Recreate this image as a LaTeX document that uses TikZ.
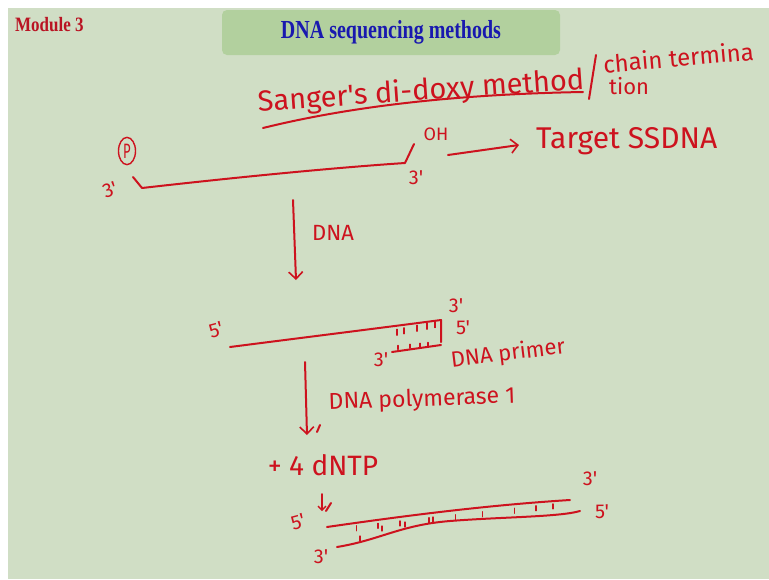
\documentclass[tikz,border=0pt]{standalone}
\usepackage{fontspec}
\setmainfont{Liberation Serif}
\newfontfamily\hand{Fira Sans}
\usepackage{tikz}
\usetikzlibrary{arrows.meta,calc}

\definecolor{board}{RGB}{208,222,197}
\definecolor{titlegreen}{RGB}{178,208,158}
\definecolor{titleblue}{RGB}{25,25,175}
\definecolor{modred}{RGB}{185,20,35}
\definecolor{inkred}{RGB}{205,18,30}

\begin{document}
\begin{tikzpicture}[x=1pt,y=-1pt,
  ink/.style={draw=inkred,line width=2pt,line cap=round,line join=round},
  thin ink/.style={draw=inkred,line width=1.2pt,line cap=round},
  pen arrow/.style={ink,-{Straight Barb[length=7pt,width=14pt,line width=1.6pt]}},
  scrawl/.style={text=inkred,inner sep=0pt,font=\hand\fontsize{#1}{#1}\selectfont},
  prime/.style={scrawl=20}]
  \useasboundingbox (0,0) rectangle (769,579);
  \fill[board] (8,8) rectangle (769,579);

  % header
  \node[anchor=west,text=modred,inner sep=0pt,font=\bfseries\fontsize{17}{17}\selectfont] (module) at (15,25) {\scalebox{1}[1.2]{Module 3}};
  \node[fill=titlegreen,rounded corners=5pt,minimum width=338pt,minimum height=45pt,
        text=titleblue,font=\bfseries\fontsize{20}{20}\selectfont] (title) at (391,32.5) {\scalebox{1}[1.3]{DNA sequencing methods}};

  % heading of the method
  \node[scrawl=29,rotate=4] (sanger) at (421,92) {Sanger's di-doxy method};
  \coordinate (sl1) at (589,99);
  \coordinate (sl2) at (596,55);
  \draw[ink] (sl1) -- (sl2);
  \node[scrawl=24,rotate=5,anchor=west] (chain) at (603,64) {chain termina};
  \node[scrawl=22,anchor=west] (tion) at (609,86) {tion};
  \coordinate (ul1) at (263,128);
  \coordinate (ul2) at (583,92);
  \draw[ink] (ul1) .. controls (360,104) and (470,94) .. (ul2);

  % target single strand
  \node[circle,draw=inkred,line width=1.4pt,minimum width=17pt,minimum height=17pt,inner sep=0pt,
        yscale=1.6,text=inkred,font=\hand\fontsize{13}{13}\selectfont] (phos) at (127,151) {P};
  \node[prime,rotate=20] (t1) at (110,190) {3'};
  \coordinate (h1) at (133,177);
  \coordinate (s1a) at (142,188);
  \coordinate (s1b) at (405,163);
  \coordinate (oh1) at (414,144);
  \draw[ink] (h1) -- (s1a) .. controls (230,178) and (330,168) .. (s1b) -- (oh1);
  \node[scrawl=18] (oh) at (436,134) {OH};
  \node[prime] (t2) at (416,178) {3'};
  \coordinate (ar1) at (448,155);
  \coordinate (ar2) at (519,145);
  \draw[pen arrow] (ar1) -- (ar2);
  \node[scrawl=30,anchor=west] (target) at (536,141) {Target SSDNA};

  % first step
  \coordinate (d1) at (293,200);
  \coordinate (d2) at (296,280);
  \draw[pen arrow] (d1) -- (d2);
  \node[scrawl=22] (dna) at (333,233) {DNA};

  % strand with primer
  \node[prime,rotate=15] (f1) at (216,330) {5'};
  \coordinate (s2a) at (230,347);
  \coordinate (s2b) at (441,320);
  \coordinate (s2c) at (441,342);
  \coordinate (p1) at (392,352);
  \coordinate (p2) at (441,345);
  \draw[ink] (s2a) .. controls (300,338) and (380,328) .. (s2b) -- (s2c);
  \draw[ink] (p1) -- (p2);
  \foreach \x in {397,404,417,427,435} \draw[thin ink] (\x,{330-(\x-393)*0.2}) -- ++(0,6);
  \foreach \x in {398,410,420,428} \draw[thin ink] (\x,{350-(\x-392)*0.1}) -- ++(0,-4);
  \node[prime] (t3) at (456,306) {3'};
  \node[prime] (f2) at (463,328) {5'};
  \node[prime] (t4) at (381,360) {3'};
  \node[scrawl=22,rotate=7] (primer) at (508,354) {DNA primer};

  % second step
  \coordinate (e1) at (305,362);
  \coordinate (e2) at (307,435);
  \draw[pen arrow] (e1) -- (e2);
  \coordinate (c1) at (320,425);
  \coordinate (c2) at (317,432);
  \draw[ink] (c1) -- (c2);
  \node[scrawl=23,rotate=2] (pol) at (422,400) {DNA polymerase 1};
  \node[scrawl=28] (dntp) at (323,465) {+ 4 dNTP};
  \coordinate (g1) at (322,494);
  \coordinate (g2) at (322,511);
  \draw[ink,-{Straight Barb[length=4pt,width=8pt,line width=1.4pt]}] (g1) -- (g2);
  \coordinate (k1) at (326,511);
  \coordinate (k2) at (331,503);
  \draw[ink] (k1) -- (k2);

  % double strand
  \node[prime,rotate=15] (f3) at (298,522) {5'};
  \coordinate (s3a) at (327,527);
  \coordinate (s3b) at (570,500);
  \coordinate (s3c) at (337,547);
  \coordinate (s3d) at (580,511);
  \draw[ink] (s3a) .. controls (410,515) and (490,505) .. (s3b);
  \draw[ink] (s3c) .. controls (380,540) and (400,525) .. (450,521) .. controls (500,517) and (560,517) .. (s3d);
  \foreach \t in {0.12,0.21,0.3,0.42,0.53,0.64,0.77,0.86,0.93}
    \draw[thin ink] ($(s3a)!\t!(s3b)$) ++(0,2) -- ++(0,5);
  \foreach \x/\y in {360/541,382/531,405/527,433/522} \draw[thin ink] (\x,\y) -- ++(0,-5);
  \node[prime] (t5) at (321,557) {3'};
  \node[prime] (t6) at (590,479) {3'};
  \node[prime] (f4) at (602,512) {5'};
\end{tikzpicture}
\end{document}
